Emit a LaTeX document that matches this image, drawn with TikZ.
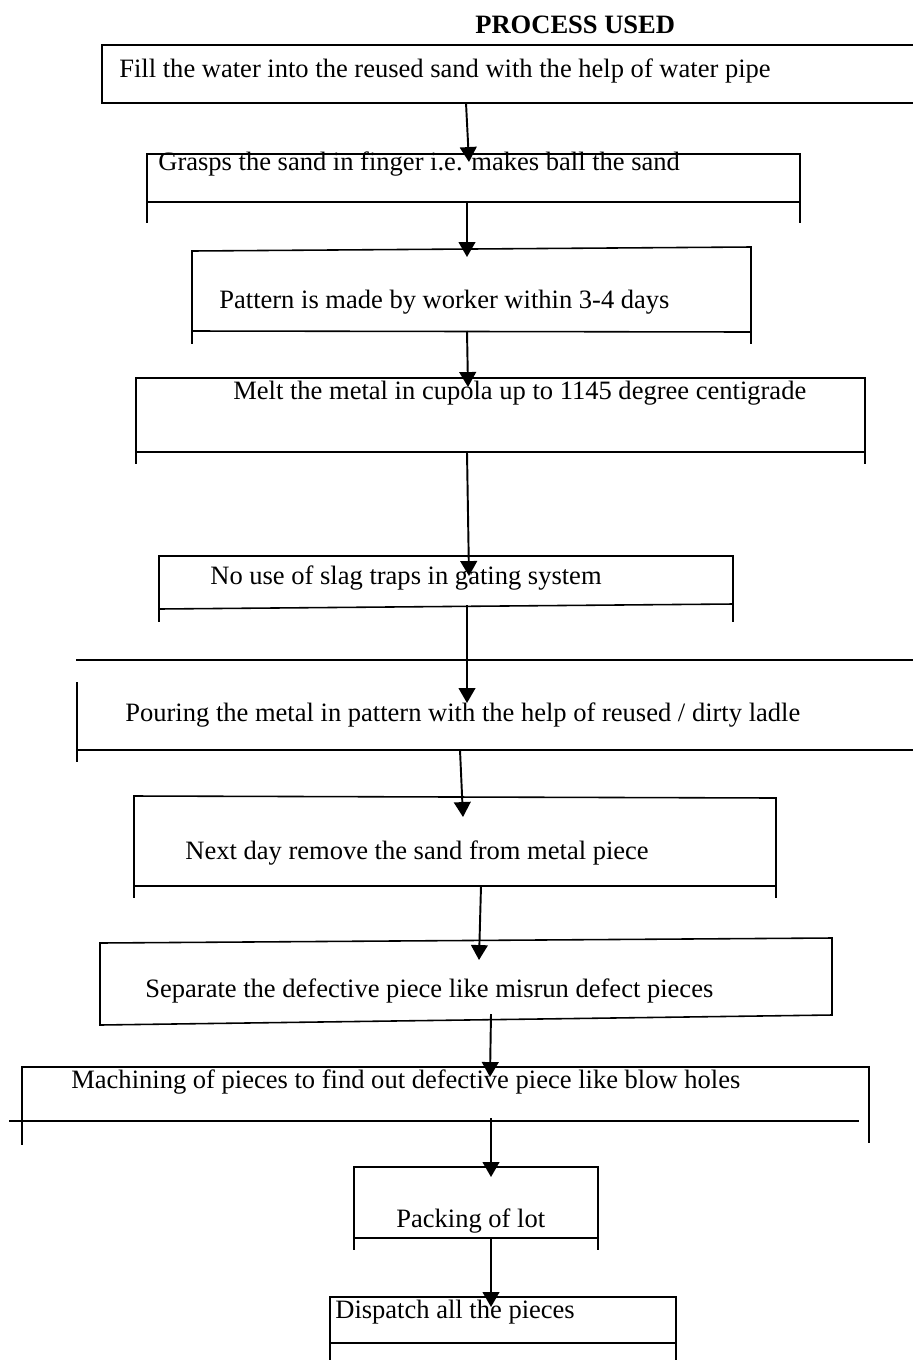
\documentclass[tikz,border=0pt]{standalone}
\usepackage{fontspec}
\setmainfont{Liberation Serif}
\usetikzlibrary{arrows.meta}
\begin{document}
\begin{tikzpicture}[x=0.02cm, y=-0.02cm, >={Triangle[width=9.5pt,length=8.5pt]},
    frame/.style={line width=0.9pt, line cap=rect},
    flow/.style={->, line width=1.1pt},
    txt/.style={anchor=base west, inner sep=0pt, font=\fontsize{15.1}{18}\selectfont}]
    % 1. Page area
    \useasboundingbox (0,0) rectangle (913,1360);

    % 2. Title
    \node[txt, font=\fontsize{15.1}{18}\selectfont\bfseries] (title) at (475,33) {PROCESS USED};

    % 3. Texts of the steps
    \node[txt] (fill)     at (119,77)   {Fill the water into the reused sand with the help of water pipe};
    \node[txt] (grasp)    at (158,170)  {Grasps the sand in finger i.e. makes ball the sand};
    \node[txt] (pattern)  at (219,308)  {Pattern is made by worker within 3-4 days};
    \node[txt] (melt)     at (233,399)  {Melt the metal in cupola up to 1145 degree centigrade};
    \node[txt] (slag)     at (210,584)  {No use of slag traps in gating system};
    \node[txt] (pour)     at (125,721)  {Pouring the metal in pattern with the help of reused / dirty ladle};
    \node[txt] (nextday)  at (185,859)  {Next day remove the sand from metal piece};
    \node[txt] (separate) at (145,997)  {Separate the defective piece like misrun defect pieces};
    \node[txt] (machine)  at (71,1088)  {Machining of pieces to find out defective piece like blow holes};
    \node[txt] (packing)  at (396,1227) {Packing of lot};
    \node[txt] (dispatch) at (335,1318) {Dispatch all the pieces};

    % 4. Frames of the steps (open, as in the source)
    \draw[frame] (913,45) -- (102,45) -- (102,103) -- (913,103);
    \draw[frame] (147,222) -- (147,154) -- (800,154) -- (800,222);
    \draw[frame] (147,202) -- (800,202);
    \draw[frame] (192,343) -- (192,251) -- (751,247) -- (751,343);
    \draw[frame] (192,331) -- (751,332);
    \draw[frame] (136,463) -- (136,378) -- (865,378) -- (865,463);
    \draw[frame] (136,452) -- (865,452);
    \draw[frame] (159,621) -- (159,556) -- (733,556) -- (733,621);
    \draw[frame] (159,609) -- (733,604);
    \draw[frame] (77,660) -- (913,660);
    \draw[frame] (77,683) -- (77,761);
    \draw[frame] (77,750) -- (913,750);
    \draw[frame] (134,897) -- (134,796) -- (776,798) -- (776,897);
    \draw[frame] (134,886) -- (776,886);
    \draw[frame] (100,943) -- (832,938) -- (832,1015) -- (100,1025) -- cycle;
    \draw[frame] (22,1144) -- (22,1067) -- (869,1067) -- (869,1142);
    \draw[frame] (10,1121) -- (858,1121);
    \draw[frame] (354,1249) -- (354,1167) -- (598,1167) -- (598,1249);
    \draw[frame] (354,1238) -- (598,1238);
    \draw[frame] (330,1360) -- (330,1297) -- (676,1297) -- (676,1360);
    \draw[frame] (330,1343) -- (676,1343);

    % 5. Ends of the arrows
    \coordinate (out1)  at (466,103);  \coordinate (in2)  at (469,162);
    \coordinate (out2)  at (467,202);  \coordinate (in3)  at (467,257);
    \coordinate (out3)  at (467,331);  \coordinate (in4)  at (468,387);
    \coordinate (out4)  at (467,452);  \coordinate (in5)  at (469,576);
    \coordinate (out5)  at (467,605);  \coordinate (in6)  at (467,703);
    \coordinate (out6)  at (460,750);  \coordinate (in7)  at (463,817);
    \coordinate (out7)  at (481,886);  \coordinate (in8)  at (479,960);
    \coordinate (out8)  at (491,1014); \coordinate (in9)  at (490,1077);
    \coordinate (out9)  at (491,1118); \coordinate (in10) at (491,1177);
    \coordinate (out10) at (491,1238); \coordinate (in11) at (491,1307);

    % 6. Arrows
    \draw[flow] (out1) -- (in2);
    \draw[flow] (out2) -- (in3);
    \draw[flow] (out3) -- (in4);
    \draw[flow] (out4) -- (in5);
    \draw[flow] (out5) -- (in6);
    \draw[flow] (out6) -- (in7);
    \draw[flow] (out7) -- (in8);
    \draw[flow] (out8) -- (in9);
    \draw[flow] (out9) -- (in10);
    \draw[flow] (out10) -- (in11);
\end{tikzpicture}
\end{document}
